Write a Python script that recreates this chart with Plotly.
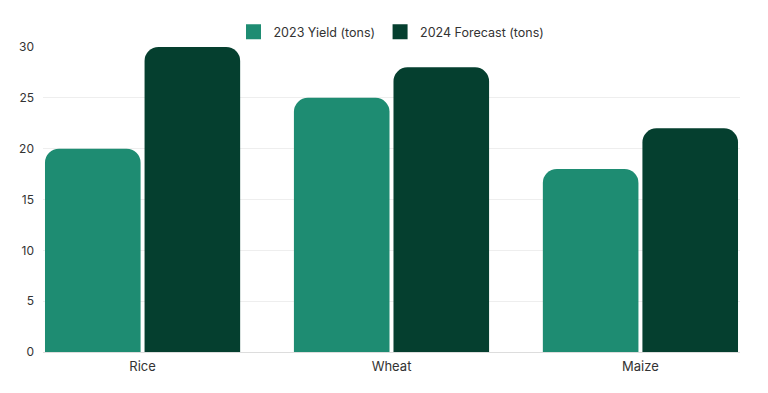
import plotly.graph_objects as go

categories = ["Rice", "Wheat", "Maize"]
yield_2023 = [20, 25, 18]
forecast_2024 = [30, 28, 22]
series_names = ["2023 Yield (tons)", "2024 Forecast (tons)"]
colors = ["#1e8c72", "#053f2f"]
y_ticks = [0, 5, 10, 15, 20, 25, 30]

FONT = "Inter, Noto Sans, sans-serif"

fig = go.Figure()
for vals, name, col in zip([yield_2023, forecast_2024], series_names, colors):
    fig.add_trace(go.Bar(x=categories, y=vals, name=name, showlegend=False,
                         marker=dict(color=col, cornerradius=14, line=dict(width=0))))
for name, col in zip(series_names, colors):
    fig.add_trace(go.Scatter(x=[None], y=[None], mode="markers", name=name,
                             marker=dict(symbol="square", size=15, color=col)))

fig.update_layout(
    width=768, height=393,
    margin=dict(l=43, r=28, t=47, b=41),
    paper_bgcolor="white", plot_bgcolor="white",
    barmode="group", bargap=0.2, bargroupgap=0.04,
    font=dict(family=FONT, size=13, color="#333333"),
    legend=dict(orientation="h", x=0.5, xanchor="center", y=1.0, yanchor="bottom",
                font=dict(size=12.5, color="#333333"), itemwidth=30,
                traceorder="normal", itemsizing="trace"),
)
fig.update_xaxes(range=[-0.4, 2.4], showgrid=False, showline=True, linecolor="#dddddd",
                 linewidth=1, ticks="", ticklabelstandoff=2,
                 tickfont=dict(size=13, color="#333333"))
fig.update_yaxes(range=[0, 30], tickvals=y_ticks, showgrid=True, gridcolor="#eeeeee",
                 zeroline=False, ticks="", ticklabelstandoff=8,
                 tickfont=dict(size=12, color="#333333"))

fig.write_html("out.html")
